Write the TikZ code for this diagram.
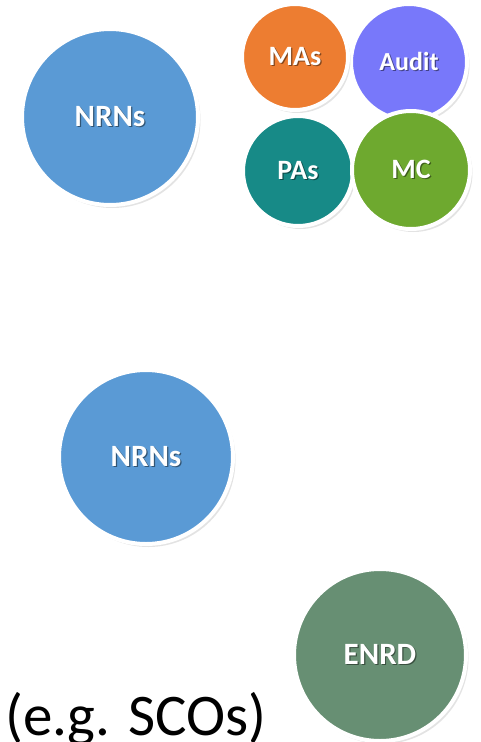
\documentclass[tikz,border=0pt]{standalone}
\usepackage{fontspec}
\setmainfont{Carlito}
\usetikzlibrary{shadows}
\definecolor{nrnblue}{HTML}{5A9AD5}
\definecolor{maorange}{HTML}{ED7D31}
\definecolor{auditviolet}{HTML}{7878FA}
\definecolor{pateal}{HTML}{178A87}
\definecolor{mcgreen}{HTML}{6EA92F}
\definecolor{enrdgreen}{HTML}{678F73}
\newcommand\shlbl[2]{\rlap{\raisebox{-1.2pt}{\hspace{1.2pt}\textcolor{#1!55!black}{#2}}}#2}
\tikzset{
  bubble/.style={circle, draw=white, line width=4pt, inner sep=0pt,
    minimum size=#1, text=white,
    drop shadow={opacity=0.22, shadow xshift=2.5pt, shadow yshift=-3pt}},
  bigfont/.style={font=\bfseries\fontsize{31}{31}\selectfont},
  smallfont/.style={font=\bfseries\fontsize{28}{28}\selectfont},
}
\begin{document}
\begin{tikzpicture}[x=1pt,y=-1pt]
\useasboundingbox (0,0) rectangle (481,742);
% top group
\node[bubble=176pt, fill=nrnblue, bigfont] (nrn1) at (110,117) {\shlbl{nrnblue}{NRNs}};
\node[bubble=116pt, fill=auditviolet, font=\bfseries\fontsize{26}{26}\selectfont] (audit) at (409,62) {\shlbl{auditviolet}{Audit}};
\node[bubble=106pt, fill=maorange, smallfont] (mas) at (295,57) {\shlbl{maorange}{MAs}};
\node[bubble=110pt, fill=pateal, smallfont] (pas) at (298,171) {\shlbl{pateal}{PAs}};
\node[bubble=118pt, fill=mcgreen, smallfont] (mc) at (411,170) {\shlbl{mcgreen}{MC}};
% lower
\node[bubble=174pt, fill=nrnblue, bigfont] (nrn2) at (146,457) {\shlbl{nrnblue}{NRNs}};
\node[bubble=172pt, fill=enrdgreen, bigfont] (enrd) at (380,655) {\shlbl{enrdgreen}{ENRD}};
\node[anchor=base west, inner sep=0pt, font=\fontsize{59}{59}\selectfont] (sco) at (5,735) {(e.g. SCOs)};
\end{tikzpicture}
\end{document}
